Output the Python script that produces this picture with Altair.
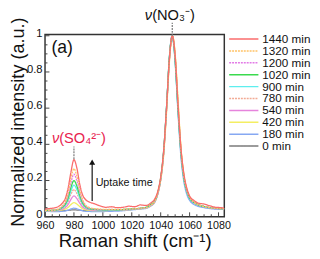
import altair as alt
import pandas as pd

FONT = "Liberation Sans"

# Raman shift grid (cm-1)
X = [960, 963, 966, 969, 972, 974, 976, 978, 980, 982, 984, 986, 988,
     991, 994, 998, 1002, 1006, 1010, 1014, 1018, 1022, 1026, 1030,
     1033, 1036, 1038, 1040, 1042, 1044, 1046, 1047, 1048, 1049, 1050,
     1052, 1054, 1056, 1058, 1060, 1063, 1066, 1070, 1074, 1078, 1082, 1084]

S1440 = [0.042, 0.045, 0.048, 0.055, 0.075, 0.10, 0.16, 0.25, 0.315, 0.27, 0.18, 0.12, 0.095,
         0.08, 0.072, 0.06, 0.052, 0.055, 0.05, 0.052, 0.058, 0.055, 0.065, 0.062,
         0.075, 0.10, 0.14, 0.22, 0.36, 0.60, 0.87, 0.96, 1.0, 0.97, 0.89,
         0.62, 0.38, 0.24, 0.16, 0.115, 0.09, 0.075, 0.07, 0.06, 0.052, 0.05, 0.048]
S1320 = [0.035, 0.036, 0.037, 0.042, 0.061, 0.083, 0.133, 0.215, 0.265, 0.224, 0.152, 0.095, 0.065,
         0.05, 0.045, 0.042, 0.04, 0.041, 0.04, 0.041, 0.043, 0.044, 0.047, 0.05,
         0.063, 0.086, 0.13, 0.205, 0.34, 0.58, 0.86, 0.95, 1.0, 0.975, 0.9,
         0.64, 0.38, 0.23, 0.15, 0.108, 0.08, 0.066, 0.056, 0.05, 0.046, 0.045, 0.044]
S1200 = [0.034, 0.035, 0.036, 0.04, 0.056, 0.076, 0.12, 0.19, 0.235, 0.199, 0.136, 0.086, 0.06,
         0.046, 0.042, 0.04, 0.039, 0.04, 0.039, 0.04, 0.042, 0.043, 0.046, 0.05,
         0.062, 0.085, 0.128, 0.208, 0.35, 0.59, 0.87, 0.96, 1.0, 0.96, 0.87,
         0.6, 0.36, 0.22, 0.145, 0.105, 0.078, 0.065, 0.055, 0.05, 0.045, 0.045, 0.044]
S1020 = [0.034, 0.035, 0.036, 0.039, 0.052, 0.069, 0.105, 0.164, 0.2, 0.17, 0.118, 0.077, 0.056,
         0.044, 0.041, 0.039, 0.038, 0.039, 0.038, 0.04, 0.042, 0.044, 0.047, 0.052,
         0.066, 0.09, 0.135, 0.215, 0.36, 0.6, 0.88, 0.965, 1.0, 0.955, 0.86,
         0.59, 0.355, 0.215, 0.142, 0.103, 0.078, 0.065, 0.056, 0.05, 0.046, 0.045, 0.045]
S900 = [0.033, 0.034, 0.035, 0.038, 0.049, 0.063, 0.094, 0.144, 0.175, 0.15, 0.105, 0.07, 0.052,
        0.042, 0.04, 0.038, 0.037, 0.038, 0.037, 0.039, 0.041, 0.043, 0.046, 0.05,
        0.062, 0.086, 0.13, 0.21, 0.355, 0.6, 0.88, 0.965, 1.0, 0.955, 0.86,
        0.585, 0.35, 0.21, 0.138, 0.1, 0.076, 0.064, 0.055, 0.049, 0.045, 0.044, 0.044]
S780 = [0.033, 0.034, 0.035, 0.037, 0.047, 0.058, 0.083, 0.125, 0.15, 0.129, 0.093, 0.064, 0.049,
        0.041, 0.039, 0.038, 0.037, 0.038, 0.037, 0.039, 0.041, 0.043, 0.046, 0.05,
        0.063, 0.086, 0.13, 0.21, 0.35, 0.59, 0.87, 0.96, 1.0, 0.965, 0.88,
        0.61, 0.37, 0.225, 0.148, 0.107, 0.08, 0.066, 0.056, 0.05, 0.046, 0.045, 0.044]
S540 = [0.032, 0.033, 0.034, 0.036, 0.042, 0.05, 0.068, 0.097, 0.115, 0.1, 0.075, 0.054, 0.044,
        0.038, 0.036, 0.035, 0.035, 0.036, 0.036, 0.038, 0.04, 0.042, 0.045, 0.049,
        0.061, 0.084, 0.127, 0.205, 0.345, 0.585, 0.865, 0.96, 1.0, 0.96, 0.875,
        0.6, 0.36, 0.22, 0.145, 0.105, 0.078, 0.065, 0.055, 0.049, 0.045, 0.044, 0.043]
S420 = [0.032, 0.032, 0.033, 0.034, 0.038, 0.042, 0.052, 0.068, 0.078, 0.07, 0.056, 0.044, 0.038,
        0.035, 0.034, 0.034, 0.034, 0.035, 0.035, 0.037, 0.039, 0.041, 0.044, 0.048,
        0.06, 0.083, 0.125, 0.2, 0.335, 0.57, 0.85, 0.95, 1.0, 0.975, 0.9,
        0.645, 0.385, 0.235, 0.152, 0.108, 0.08, 0.066, 0.056, 0.05, 0.046, 0.045, 0.044]
S180 = [0.03, 0.029, 0.028, 0.028, 0.03, 0.032, 0.036, 0.043, 0.047, 0.044, 0.038, 0.033, 0.03,
        0.029, 0.028, 0.028, 0.029, 0.03, 0.031, 0.033, 0.036, 0.039, 0.042, 0.046,
        0.058, 0.082, 0.126, 0.205, 0.35, 0.6, 0.88, 0.97, 1.0, 0.95, 0.85,
        0.57, 0.33, 0.195, 0.125, 0.09, 0.068, 0.057, 0.05, 0.045, 0.042, 0.041, 0.04]
S0 = [0.035, 0.034, 0.033, 0.033, 0.033, 0.034, 0.035, 0.037, 0.038, 0.037, 0.036, 0.034, 0.033,
      0.032, 0.032, 0.032, 0.033, 0.034, 0.035, 0.037, 0.039, 0.042, 0.045, 0.05,
      0.063, 0.087, 0.132, 0.21, 0.35, 0.59, 0.87, 0.96, 1.0, 0.965, 0.88,
      0.61, 0.37, 0.225, 0.15, 0.108, 0.08, 0.067, 0.057, 0.05, 0.046, 0.045, 0.045]

NAMES = ["1440 min", "1320 min", "1200 min", "1020 min", "900 min",
         "780 min", "540 min", "420 min", "180 min", "0 min"]
SERIES = [S1440, S1320, S1200, S1020, S900, S780, S540, S420, S180, S0]
COLORS = ["#fa6c6c", "#ffc266", "#e27ae6", "#3ada4e", "#5eeeee",
          "#f2aa94", "#e684dc", "#f4ee62", "#86a8f2", "#7a7a7a"]
DASHES = [[1, 0], [2, 1], [2, 1], [1, 0], [1, 0],
          [2, 1], [1, 0], [1, 0], [1, 0], [1, 0]]

XMAJ = [960, 980, 1000, 1020, 1040, 1060, 1080]
XMIN = [965, 970, 975, 985, 990, 995, 1005, 1010, 1015, 1025, 1030, 1035,
        1045, 1050, 1055, 1065, 1070, 1075]
YMAJ = [0, 0.2, 0.4, 0.6, 0.8, 1.0]
YMIN = [0.05, 0.1, 0.15, 0.25, 0.3, 0.35, 0.45, 0.5, 0.55, 0.65, 0.7, 0.75,
        0.85, 0.9, 0.95]

for s in SERIES:
    assert len(s) == len(X)

rows = []
for name, vals in reversed(list(zip(NAMES, SERIES))):
    for xv, yv in zip(X, vals):
        rows.append({"x": xv, "y": yv, "series": name})
df = pd.DataFrame(rows)

W, H = 184, 187
xs = alt.Scale(domain=[960, 1084], nice=False, zero=False)
ys = alt.Scale(domain=[0, 1.007], nice=False, zero=False)
color = alt.Color("series:N", scale=alt.Scale(domain=NAMES, range=COLORS), legend=None)
dash = alt.StrokeDash("series:N", scale=alt.Scale(domain=NAMES, range=DASHES), legend=None)

X_AXIS = dict(
    values=XMAJ, format="d", ticks=False, domain=False, grid=False,
    labelOverlap=False, labelFlush=False,
    labelFontSize=11, labelPadding=3, labelColor="#111",
    title="Raman shift (cm⁻¹)", titleFontSize=19, titleFontWeight="normal",
    titleColor="#111", titleY=30.5, titleBaseline="alphabetic")
Y_AXIS = dict(
    values=YMAJ, format="~g", ticks=False, domain=False, grid=False,
    labelOverlap=False, labelFlush=False, labelOffset=-2.5,
    labelFontSize=11.5, labelPadding=3, labelColor="#111",
    title="Normalized intensity (a.u.)", titleFontSize=18.5, titleFontWeight="normal",
    titleColor="#111", titleX=-22.5, titleY=89.5, titleBaseline="alphabetic")

def xa():
    return alt.Axis(**X_AXIS)

def ya():
    return alt.Axis(**Y_AXIS)

lines = alt.Chart(df).mark_line(strokeWidth=1.3, clip=True, interpolate="monotone").encode(
    x=alt.X("x:Q", scale=xs, axis=xa()),
    y=alt.Y("y:Q", scale=ys, axis=ya()),
    color=color,
    strokeDash=dash,
)

TICK = "#444444"
xmaj = alt.Chart(pd.DataFrame({"x": XMAJ})).mark_rule(color=TICK, strokeWidth=1).encode(
    x=alt.X("x:Q", scale=xs, axis=xa()), y=alt.value(H), y2=alt.value(H - 4.5))
xmin = alt.Chart(pd.DataFrame({"x": XMIN})).mark_rule(color=TICK, strokeWidth=1).encode(
    x=alt.X("x:Q", scale=xs, axis=xa()), y=alt.value(H), y2=alt.value(H - 2.5))
ymaj = alt.Chart(pd.DataFrame({"y": YMAJ})).mark_rule(color=TICK, strokeWidth=1).encode(
    y=alt.Y("y:Q", scale=ys, axis=ya()), x=alt.value(0), x2=alt.value(4.5))
ymin = alt.Chart(pd.DataFrame({"y": YMIN})).mark_rule(color=TICK, strokeWidth=1).encode(
    y=alt.Y("y:Q", scale=ys, axis=ya()), x=alt.value(0), x2=alt.value(2.5))

one = pd.DataFrame({"k": [0]})

def txt(text, xv, yv, **kw):
    return alt.Chart(one).mark_text(text=text, font=FONT, **kw).encode(
        x=alt.XDatum(xv, axis=xa()), y=alt.YDatum(yv, axis=ya()))

RED = "#e8234f"
ann = [
    txt("(a)", 964.5, 0.905, fontSize=18, align="left", baseline="alphabetic", color="#111"),
    txt("ν", 1034.1, 1.085, fontSize=15, fontStyle="italic", align="right", baseline="alphabetic", color="#111"),
    txt("(NO₃⁻)", 1034.1, 1.085, fontSize=15, align="left", baseline="alphabetic", color="#111"),
    txt("ν", 969.8, 0.407, fontSize=15, fontStyle="italic", align="right", baseline="alphabetic", color=RED),
    txt("(SO₄²⁻)", 969.8, 0.407, fontSize=15, align="left", baseline="alphabetic", color=RED),
    txt("Uptake time", 995.0, 0.1885, fontSize=11, align="left", baseline="middle", color="#111"),
]

def vrule(xv, y1, y2, **kw):
    return alt.Chart(one).mark_rule(**kw).encode(
        x=alt.XDatum(xv, axis=xa()), y=alt.YDatum(y1, axis=ya()), y2=alt.Y2Datum(y2))

guides = [
    vrule(1048, 1.0, 1.0716, color="#777", strokeDash=[2, 1], strokeWidth=1.2),
    vrule(980, 0.318, 0.3877, color="#777", strokeDash=[2, 1], strokeWidth=1.2),
    vrule(992.6, 0.0862, 0.30, color="#111", strokeWidth=1.2),
    alt.Chart(one).mark_point(shape="triangle-up", filled=True, size=38, color="#111", opacity=1).encode(
        x=alt.XDatum(992.6, axis=xa()), y=alt.YDatum(0.302, axis=ya())),
]

main = alt.layer(lines, xmaj, xmin, ymaj, ymin, *guides, *ann)

leg_df = pd.DataFrame({"series": NAMES})
leg_y = alt.Y("series:N", scale=alt.Scale(type="point", domain=NAMES, range=[4.7, 114.5], padding=0), axis=None)
leg_rule = alt.Chart(leg_df).mark_rule(strokeWidth=1.5).encode(
    x=alt.value(189), x2=alt.value(219), y=leg_y, color=color, strokeDash=dash)
leg_text = alt.Chart(leg_df).mark_text(align="left", baseline="middle", fontSize=12, font=FONT, color="#111").encode(
    x=alt.value(223), y=leg_y, text="series:N")
legend = alt.layer(leg_rule, leg_text)

chart = alt.layer(main, legend).resolve_scale(y="independent").properties(
    width=W, height=H,
    padding={"left": 38, "top": 24, "right": 90, "bottom": 32},
    autosize=alt.AutoSizeParams(type="none"),
).configure_view(stroke="#333333", strokeWidth=1.5).configure_axis(
    labelFont=FONT, titleFont=FONT).configure_text(font=FONT)

chart.save("out.html", embed_options={"renderer": "svg", "actions": False})
